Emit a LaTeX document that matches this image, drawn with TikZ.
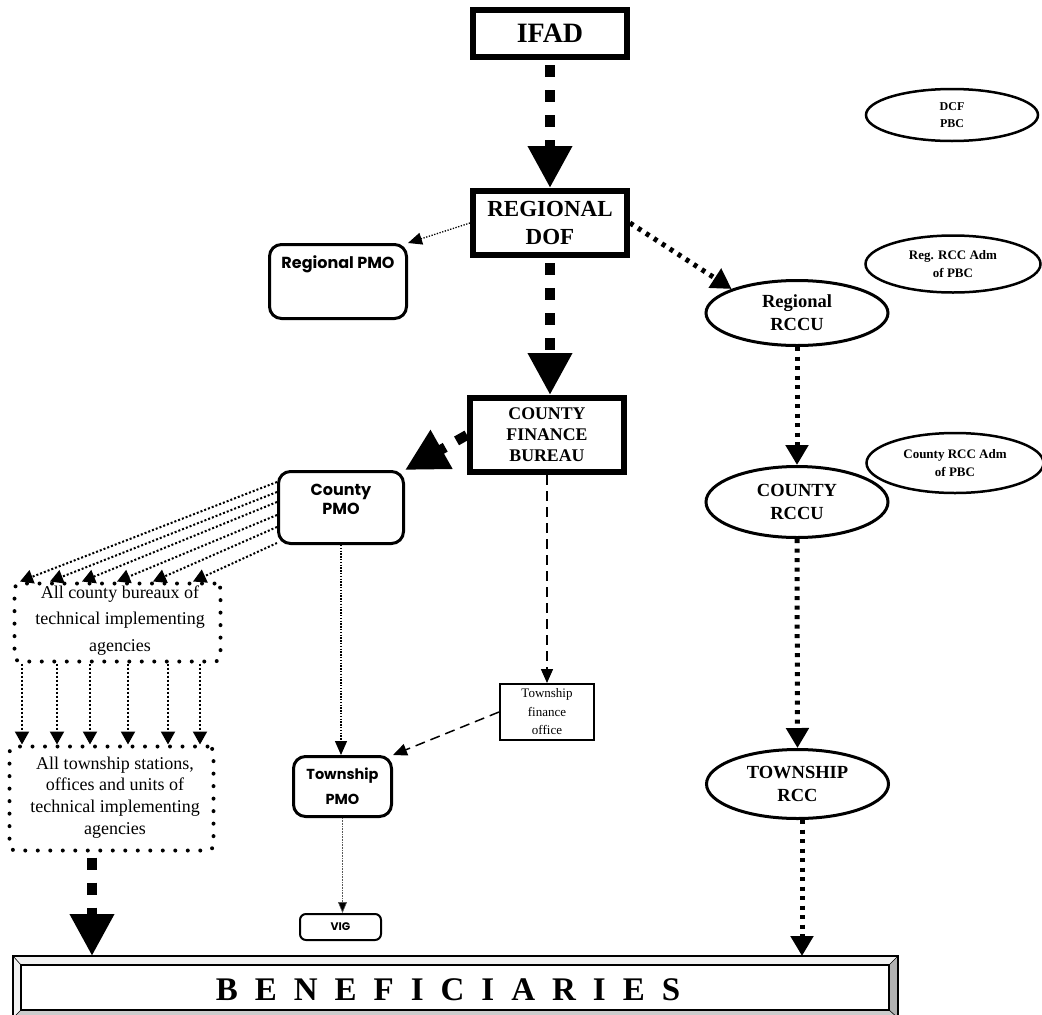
\documentclass[tikz,border=0pt]{standalone}
\usepackage{fontspec}
\setmainfont{Liberation Serif}
\newfontfamily\comic{Poppins}
\usetikzlibrary{arrows.meta,shapes.geometric,calc}
\begin{document}
\begin{tikzpicture}[x=1pt,y=-1pt,
  thickbox/.style={draw, line width=6pt, inner sep=0pt, align=center, font=\bfseries\fontsize{18}{21}\selectfont},
  pmobox/.style={draw, line width=3pt, rounded corners=12pt, inner sep=0pt, align=center, font=\comic\bfseries\fontsize{14.5}{25}\selectfont},
  pmotext/.style={inner sep=0pt, align=center, font=\comic\bfseries\fontsize{16}{19}\selectfont},
  oval/.style={draw, ellipse, line width=3pt, inner sep=0pt, align=center, font=\bfseries\fontsize{18.5}{23}\selectfont},
  smalloval/.style={draw, ellipse, line width=2.5pt, inner sep=0pt, align=center, font=\bfseries\fontsize{13}{18}\selectfont},
  dotbox/.style={draw, line width=4pt, dash pattern=on 0pt off 12.5pt, line cap=round, rounded corners=6pt, inner sep=0pt, align=center},
  plainbox/.style={draw, line width=2pt, inner sep=0pt, align=center, font=\fontsize{13}{18.5}\selectfont},
  bigdash/.style={line width=10pt, dash pattern=on 12pt off 13pt, dash phase=-5pt, -{Triangle[width=42pt,length=42pt]}},
  bigdot/.style={line width=5pt, dash pattern=on 4pt off 5.5pt, -{Triangle[width=22pt,length=20pt]}},
  fan/.style={line width=2pt, dash pattern=on 2pt off 2pt, -{Triangle[width=14pt,length=13pt]}},
  thindot/.style={line width=1.3pt, dash pattern=on 1.3pt off 1.5pt, -{Triangle[width=12pt,length=14pt]}},
  hairdot/.style={line width=0.6pt, gray!70!black, dash pattern=on 0.6pt off 1pt, -{Triangle[width=9pt,length=11pt, fill=black]}},
  thindash/.style={line width=1.5pt, dash pattern=on 10pt off 6pt, -{Triangle[width=12pt,length=14pt]}}
]
\useasboundingbox (0,0) rectangle (1042,1015);

% main column
\node[thickbox, minimum width=154pt, minimum height=47pt, font=\bfseries\fontsize{28}{30}\selectfont] (ifad) at (550,33.5) {IFAD};
\node[thickbox, minimum width=154pt, minimum height=64pt, font=\bfseries\fontsize{23}{28}\selectfont] (dof) at (550,223) {REGIONAL\\DOF};
\node[thickbox, minimum width=154pt, minimum height=74pt, font=\bfseries\fontsize{17.8}{21}\selectfont] (cfb) at (547,435) {COUNTY\\FINANCE\\BUREAU};

% PMO boxes
\node[pmobox, minimum width=137pt, minimum height=74pt] (rpmo) at (338,281.5) {};
\node[pmotext] (rpmot) at (338,264) {Regional PMO};
\node[pmobox, minimum width=125pt, minimum height=72pt] (cpmo) at (341,507.5) {};
\node[pmotext] (cpmot) at (341,499) {County\\PMO};
\node[pmobox, minimum width=98pt, minimum height=60pt] (tpmo) at (342.5,786.5) {Township\\PMO};
\node[pmobox, line width=2pt, rounded corners=6pt, minimum width=81pt, minimum height=26pt, font=\comic\bfseries\fontsize{11}{13}\selectfont] (vig) at (340.5,927) {VIG};
\node[plainbox, minimum width=94pt, minimum height=56pt] (tfo) at (547,712) {Township\\finance\\office};

% dotted boxes
\node[dotbox, minimum width=206pt, minimum height=78pt] (box1) at (117.5,622.5) {};
\node[inner sep=0pt, align=center, font=\fontsize{18}{26.6}\selectfont] (box1t) at (120,620.5) {All county bureaux of\\technical implementing\\agencies};
\node[dotbox, minimum width=204pt, minimum height=104pt] (box2) at (111.5,798.5) {};
\node[inner sep=0pt, align=center, font=\fontsize{18}{21.7}\selectfont] (box2t) at (115,797.5) {All township stations,\\offices and units of\\technical implementing\\agencies};

% RCC column
\node[oval, minimum width=182pt, minimum height=65pt] (rrccu) at (797,313) {Regional\\RCCU};
\node[oval, minimum width=182pt, minimum height=71pt] (crccu) at (797,502) {COUNTY\\RCCU};
\node[oval, minimum width=182pt, minimum height=69pt] (trcc) at (797.5,784) {TOWNSHIP\\RCC};
\node[smalloval, minimum width=172pt, minimum height=52pt, font=\bfseries\fontsize{12}{17}\selectfont] (dcf) at (952,115) {DCF\\PBC};
\node[smalloval, minimum width=175pt, minimum height=57pt] (regadm) at (953,264) {Reg. RCC Adm\\of PBC};
\node[smalloval, minimum width=177pt, minimum height=60pt] (cntadm) at (955,463) {County RCC Adm\\of PBC};

% Beneficiaries beveled box
\node[minimum width=885pt, minimum height=62pt, inner sep=0pt, outer sep=0pt] (ben) at (455.5,987) {};
\coordinate (bnw) at ([xshift=8pt,yshift=-9pt]ben.north west);
\coordinate (bne) at ([xshift=-9pt,yshift=-9pt]ben.north east);
\coordinate (bse) at ([xshift=-9pt,yshift=8pt]ben.south east);
\coordinate (bsw) at ([xshift=8pt,yshift=8pt]ben.south west);
\fill[gray!55] (ben.north west) rectangle (ben.south east);
\fill[gray!10] (ben.north west) -- (ben.north east) -- (bne) -- (bnw) -- (bsw) -- (ben.south west) -- cycle;
\fill[gray!60] (ben.north east) -- (ben.south east) -- (bse) -- (bne) -- cycle;
\fill[gray!40] (ben.south west) -- (ben.south east) -- (bse) -- (bsw) -- cycle;
\draw[line width=0.6pt] (ben.north west) -- (bnw) (ben.north east) -- (bne) (ben.south east) -- (bse) (ben.south west) -- (bsw);
\draw[line width=1.5pt, fill=white] (bnw) rectangle (bse);
\draw[line width=1.5pt] (ben.north west) rectangle (ben.south east);
\node[inner sep=0pt, font=\bfseries\fontsize{33}{36}\selectfont] (bent) at (448,990) {\spaceskip=17pt\relax B E N E F I C I A R I E S};

% connectors: thick dashed
\draw[bigdash] (ifad.south) -- (dof.north);
\draw[bigdash] (dof.south) -- (dof.south |- cfb.north);
\draw[bigdash, dash phase=0pt] (cfb.west) -- (cpmo.north east);
\coordinate (b2s) at (92,0 |- box2.south);
\draw[bigdash] (b2s) -- (b2s |- ben.north);

% thick dotted
\draw[bigdot] (dof.east) -- (rrccu.north west);
\draw[bigdot] (rrccu.south) -- (crccu.north);
\draw[bigdot] (crccu.south) -- (trcc.north);
\coordinate (t8) at ([xshift=4.5pt]trcc.south);
\draw[bigdot] (t8) -- (t8 |- ben.north);

% thin connectors
\draw[thindot] (dof.west) -- (rpmo.north east);
\draw[thindot] (cpmo.south) -- (cpmo.south |- tpmo.north);
\draw[hairdot] (tpmo.south) -- (tpmo.south |- vig.north);
\draw[thindash] (cfb.south) -- (cfb.south |- tfo.north);
\draw[thindash] (tfo.west) -- (tpmo.north east);

% fan from County PMO to county bureaux
\draw[fan] (cpmo.west |- 0,482) -- (20,0 |- box1.north);
\draw[fan] (cpmo.west |- 0,492) -- (50,0 |- box1.north);
\draw[fan] (cpmo.west |- 0,502) -- (82,0 |- box1.north);
\draw[fan] (cpmo.west |- 0,515) -- (117,0 |- box1.north);
\draw[fan] (cpmo.west |- 0,527) -- (153,0 |- box1.north);
\draw[fan] (cpmo.west |- 0,543) -- (193,0 |- box1.north);

% county bureaux to township stations
\foreach \xx in {22,57,90,128,168,200}
  \draw[fan] (\xx,0 |- box1.south) -- (\xx,0 |- box2.north);
\end{tikzpicture}
\end{document}
